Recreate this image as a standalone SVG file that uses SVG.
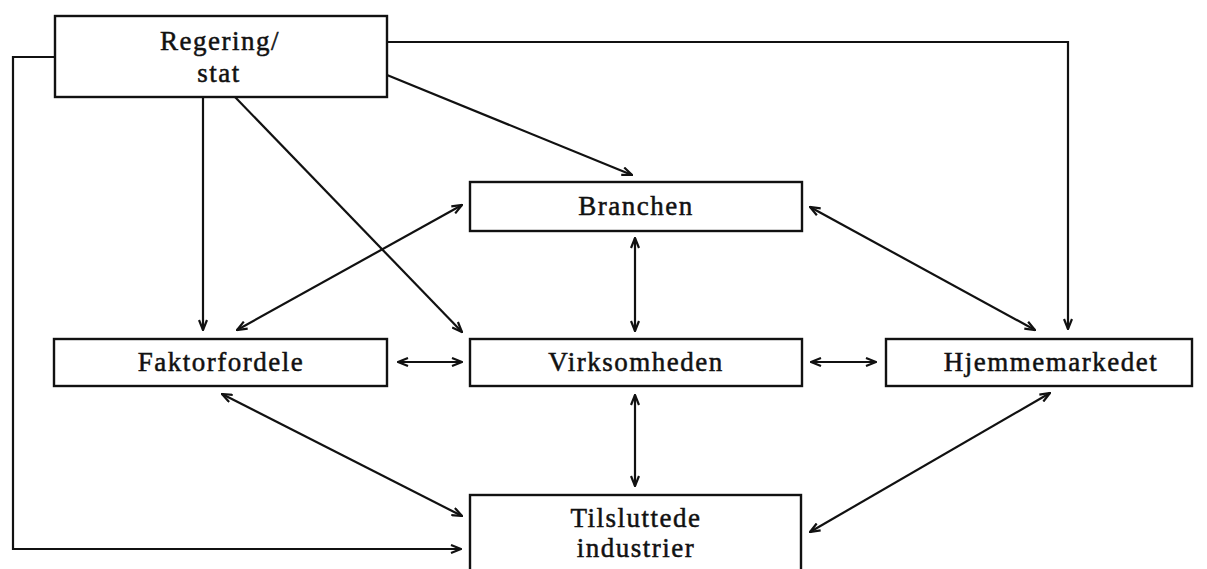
<svg xmlns="http://www.w3.org/2000/svg" width="1207" height="569" viewBox="0 0 1207 569">
<defs>
<marker id="ah" viewBox="0 0 12 10" refX="11" refY="5" markerWidth="12" markerHeight="10" markerUnits="userSpaceOnUse" orient="auto-start-reverse">
<path d="M1,1 L11,5 L1,9" fill="none" stroke="#111" stroke-width="2.2"/>
</marker>
<style>
.box{fill:#fff;stroke:#111;stroke-width:2.4}
.lbl{font-family:"Liberation Serif","Times New Roman",serif;font-size:27px;letter-spacing:1.5px;fill:#111;stroke:#111;stroke-width:0.5;text-anchor:middle}
.c{fill:none;stroke:#111;stroke-width:2.2}
.one{marker-end:url(#ah)}
.two{marker-start:url(#ah);marker-end:url(#ah)}
</style>
</defs>
<rect width="1207" height="569" fill="#fff"/>
<g id="connectors">
<polyline class="c one" points="55,57 13,57 13,549 461,549"/>
<polyline class="c one" points="387,42 1068,42 1068,329"/>
<line class="c one" x1="387" y1="75" x2="632" y2="175"/>
<line class="c one" x1="203" y1="97" x2="203" y2="330"/>
<line class="c one" x1="235" y1="97" x2="462" y2="332"/>
<line class="c two" x1="462" y1="205" x2="237" y2="330"/>
<line class="c two" x1="635" y1="238" x2="635" y2="331"/>
<line class="c two" x1="810" y1="207" x2="1035" y2="330"/>
<line class="c two" x1="398" y1="362" x2="462" y2="362"/>
<line class="c two" x1="811" y1="362" x2="876" y2="362"/>
<line class="c two" x1="635" y1="395" x2="635" y2="486"/>
<line class="c two" x1="222" y1="394" x2="462" y2="516"/>
<line class="c two" x1="1050" y1="393" x2="810" y2="532"/>
</g>
<g id="regering">
<rect class="box" x="55" y="16" width="332" height="81"/>
<text class="lbl" x="220" y="50">Regering/</text>
<text class="lbl" x="219" y="82">stat</text>
</g>
<g id="branchen">
<rect class="box" x="470" y="182" width="332" height="49"/>
<text class="lbl" x="636" y="215">Branchen</text>
</g>
<g id="faktorfordele">
<rect class="box" x="54" y="339" width="333" height="47"/>
<text class="lbl" x="221" y="371">Faktorfordele</text>
</g>
<g id="virksomheden">
<rect class="box" x="470" y="339" width="332" height="47"/>
<text class="lbl" x="636" y="371">Virksomheden</text>
</g>
<g id="hjemmemarkedet">
<rect class="box" x="886" y="339" width="306" height="47"/>
<text class="lbl" x="1051" y="371">Hjemmemarkedet</text>
</g>
<g id="tilsluttede">
<rect class="box" x="470" y="495" width="331" height="85"/>
<text class="lbl" x="636" y="527">Tilsluttede</text>
<text class="lbl" x="636" y="557">industrier</text>
</g>
</svg>
